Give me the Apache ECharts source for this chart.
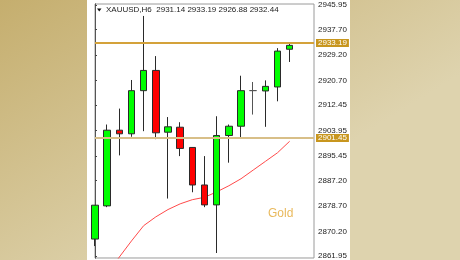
<!DOCTYPE html>
<html><head><meta charset="utf-8">
<script src="https://cdn.jsdelivr.net/npm/echarts@6/dist/echarts.min.js"></script>
<style>html,body{margin:0;padding:0;background:#fff}#c{width:460px;height:260px;}</style>
</head><body><div id="c"></div>
<script>
const symbol = 'XAUUSD,H6';
const headerValues = ['2931.14', '2933.19', '2926.88', '2932.44'];
const barIndex = [0,1,2,3,4,5,6,7,8,9,10,11,12,13,14,15,16];
const opens  = [2867.62,2878.72,2904.05,2902.85,2917.28,2924.05,2903.38,2905.05,2898.28,2885.72,2879.05,2902.28,2905.38,2917.30,2917.18,2918.52,2931.14];
const closes = [2878.95,2904.05,2902.85,2917.28,2924.05,2903.18,2905.18,2897.95,2885.72,2879.05,2902.28,2905.38,2917.28,2917.30,2918.72,2930.52,2932.44];
const lows   = [2865.28,2878.30,2895.62,2901.85,2903.72,2901.05,2881.18,2895.38,2883.28,2878.30,2862.95,2893.18,2901.18,2909.28,2905.18,2913.72,2926.88];
const highs  = [2879.00,2905.95,2911.28,2920.85,2942.28,2928.85,2908.45,2906.72,2898.40,2895.38,2908.72,2905.95,2922.28,2920.18,2920.72,2931.52,2933.19];
const maValues = [2851.0,2856.1,2861.6,2867.0,2872.1,2875.05,2877.5,2879.4,2880.8,2881.6,2883.4,2885.45,2887.8,2890.7,2893.6,2896.5,2900.35];
const yTicks = [2861.95,2870.20,2878.70,2887.20,2895.45,2903.95,2912.45,2920.70,2929.20,2937.70,2945.95];
const levels = [2933.19, 2901.45];
const lastClose = 2932.44;
const watermark = 'Gold';

const Y_MIN = 2861.283, Y_MAX = 2946.283;
const candleData = barIndex.map((x, i) => [x, opens[i], closes[i], lows[i], highs[i]]);
const maData = barIndex.map((x, i) => [x, maValues[i]]);

const chart = echarts.init(document.getElementById('c'), null, {renderer: 'canvas'});
const FONT = "'Liberation Sans', 'DejaVu Sans', sans-serif";
chart.setOption({
  animation: false,
  backgroundColor: {type: 'linear', x: 0, y: 0, x2: 0.35, y2: 1,
    colorStops: [{offset: 0, color: '#c5ae6e'}, {offset: 1, color: '#ded3ae'}]},
  graphic: [
    {type: 'rect', z: -10, shape: {x: 87, y: -10, width: 263, height: 290, r: 7}, style: {fill: '#ffffff'}},
    {type: 'polygon', z: 100, shape: {points: [[97, 8.5], [101.5, 8.5], [99.25, 11.5]]}, style: {fill: '#111'}},
    {type: 'text', z: 100, x: 106, y: 10, style: {text: symbol + '  ' + headerValues.join(' '), fill: '#222', font: '8px ' + FONT, verticalAlign: 'middle'}},
    {type: 'text', z: 100, x: 268, y: 214, style: {text: watermark, fill: '#e9b95c', font: '12px ' + FONT, verticalAlign: 'middle'}}
  ],
  grid: {left: 95, top: 4, width: 219, height: 255, show: true, borderColor: '#9a9a9a', borderWidth: 1, backgroundColor: 'transparent'},
  xAxis: {type: 'value', min: 0, max: 18, show: false},
  yAxis: [{
    type: 'value', position: 'right', min: Y_MIN, max: Y_MAX, scale: true,
    splitLine: {show: false},
    axisLine: {show: true, lineStyle: {color: '#666', width: 1}},
    axisTick: {show: true, length: 2, lineStyle: {color: '#444'}, customValues: yTicks},
    axisLabel: {show: true, margin: 4, color: '#222', fontSize: 8, fontFamily: FONT, customValues: yTicks,
      formatter: v => v.toFixed(2)}
  }, {
    type: 'value', position: 'left', min: Y_MIN, max: Y_MAX, scale: true,
    splitLine: {show: false},
    axisLine: {show: true, lineStyle: {color: '#555', width: 1}},
    axisTick: {show: false}, axisLabel: {show: false}
  }],
  series: [
    {
      type: 'line', data: maData, yAxisIndex: 0, symbol: 'none', clip: true, z: 3,
      lineStyle: {color: '#ff4a4a', width: 1}
    },
    {
      type: 'candlestick', data: candleData, yAxisIndex: 0, clip: true, barWidth: 7, z: 4,
      encode: {x: 0, y: [1, 2, 3, 4]},
      itemStyle: {color: '#00ff00', color0: '#ff0000', borderColor: '#2a2a2a', borderColor0: '#2a2a2a', borderColorDoji: '#555', borderWidth: 1},
      markLine: {
        silent: true, symbol: ['none', 'none'],
        lineStyle: {type: 'solid', opacity: 1},
        data: [
          {yAxis: lastClose, lineStyle: {opacity: 0},
            label: {show: true, position: 'end', distance: 2, formatter: lastClose.toFixed(2), color: '#fff', backgroundColor: '#000', fontSize: 8, fontFamily: FONT, padding: [1, 2, 1, 2], lineHeight: 8}},
          {yAxis: levels[0], lineStyle: {color: '#d4a23a', width: 2, type: 'solid', opacity: 1},
            label: {show: true, position: 'end', distance: 2, formatter: levels[0].toFixed(2), color: '#fff', backgroundColor: '#c8961e', fontSize: 8, fontFamily: FONT, padding: [0, 2, 0, 2], lineHeight: 8}},
          {yAxis: levels[1], lineStyle: {color: '#d8bf88', width: 2, type: 'solid', opacity: 1},
            label: {show: true, position: 'end', distance: 2, formatter: levels[1].toFixed(2), color: '#fff', backgroundColor: '#c8961e', fontSize: 8, fontFamily: FONT, padding: [0, 2, 0, 2], lineHeight: 8}}
        ]
      }
    }
  ]
});
</script></body></html>
